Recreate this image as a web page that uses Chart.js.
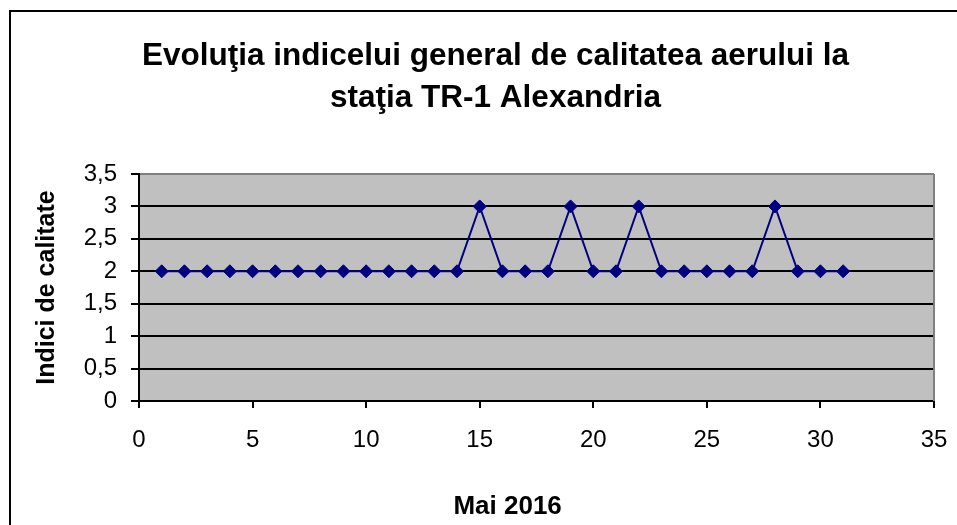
<!DOCTYPE html>
<html lang="ro">
<head>
<meta charset="utf-8">
<title>Evoluţia indicelui general de calitatea aerului</title>
<script src="https://cdn.jsdelivr.net/npm/chart.js@4/dist/chart.umd.min.js"></script>
<style>
    html, body { margin: 0; padding: 0; background: #fff; }
    #grafic { display: block; }
</style>
</head>
<body>
<canvas id="grafic" width="957" height="525"></canvas>
<script>
// Date: ziua din luna mai 2016 si indicele general de calitate
const zile = [1, 2, 3, 4, 5, 6, 7, 8, 9, 10, 11, 12, 13, 14, 15, 16,
    17, 18, 19, 20, 21, 22, 23, 24, 25, 26, 27, 28, 29, 30, 31];
const valori = [2, 2, 2, 2, 2, 2, 2, 2, 2, 2, 2, 2, 2, 2, 3, 2,
    2, 2, 3, 2, 2, 3, 2, 2, 2, 2, 2, 3, 2, 2, 2];
const titlu = ['Evoluţia indicelui general de calitatea aerului la', 'staţia TR-1 Alexandria'];
const titluX = 'Mai 2016';
const titluY = 'Indici de calitate';

const FONT = '"Liberation Sans", Arial, sans-serif';

// Fundal gri, chenar exterior si marginea zonei de desen
const fundal = {
    id: 'fundal',
    beforeDraw(chart) {
        const { ctx, chartArea: a } = chart;
        ctx.save();
        ctx.fillStyle = '#fff';
        ctx.fillRect(0, 0, chart.width, chart.height);
        ctx.fillStyle = '#c0c0c0';
        ctx.fillRect(a.left, a.top, a.right - a.left, a.bottom - a.top);
        // chenarul graficului (iese din imagine la dreapta si jos)
        ctx.strokeStyle = '#000';
        ctx.lineWidth = 2;
        ctx.beginPath();
        ctx.moveTo(10, chart.height + 10);
        ctx.lineTo(10, 11);
        ctx.lineTo(chart.width + 10, 11);
        ctx.stroke();
        ctx.restore();
    },
    beforeDatasetsDraw(chart) {
        const { ctx, chartArea: a } = chart;
        ctx.save();
        ctx.strokeStyle = '#808080';
        ctx.lineWidth = 2;
        ctx.beginPath();
        ctx.moveTo(a.right, a.top);
        ctx.lineTo(a.right, a.bottom);
        ctx.stroke();
        ctx.restore();
    }
};

const ctx = document.getElementById('grafic').getContext('2d');
const chart = new Chart(ctx, {
    type: 'scatter',
    data: {
        datasets: [{
            label: 'Indice general',
            data: zile.map((z, i) => ({ x: z, y: valori[i] })),
            showLine: true,
            borderColor: '#000080',
            backgroundColor: '#000080',
            borderWidth: 2,
            pointStyle: 'rectRot',
            pointRadius: 6.5,
            pointBorderWidth: 1,
            pointBorderColor: '#000080',
            pointBackgroundColor: '#000080'
        }]
    },
    options: {
        responsive: false,
        animation: false,
        // stanga 57 ca titlul sa fie centrat ca in original
        layout: { padding: { left: 57, right: 23, top: 0, bottom: 0 } },
        plugins: {
            legend: { display: false },
            tooltip: { enabled: false },
            title: {
                display: true,
                text: titlu,
                color: '#000',
                font: { family: FONT, size: 31.5, weight: 'bold', lineHeight: 42 / 31.5 },
                padding: { top: 35, bottom: 55 }
            }
        },
        scales: {
            x: {
                type: 'linear',
                min: 0,
                max: 35,
                afterFit(scale) {
                    scale.height = 124;
                    scale.paddingLeft = 0;
                    scale.paddingRight = 0;
                },
                ticks: {
                    stepSize: 5,
                    color: '#000',
                    padding: 18,
                    font: { family: FONT, size: 24 }
                },
                grid: {
                    drawOnChartArea: false,
                    drawTicks: true,
                    tickLength: 7,
                    color: '#000',
                    tickColor: '#000',
                    lineWidth: 2
                },
                border: { color: '#000', width: 2 },
                title: {
                    display: true,
                    // spatiile de la final muta titlul spre stanga, ca in original
                    text: titluX + '        ',
                    color: '#000',
                    font: { family: FONT, size: 26, weight: 'bold', lineHeight: 1.2 },
                    padding: { top: 0, bottom: 3 }
                }
            },
            y: {
                min: 0,
                max: 3.5,
                afterFit(scale) { scale.width = 82; },
                ticks: {
                    stepSize: 0.5,
                    color: '#000',
                    padding: 14,
                    font: { family: FONT, size: 24 },
                    callback: v => String(v).replace('.', ',')
                },
                grid: {
                    color: c => (c.tick && c.tick.value === 3.5 ? '#808080' : '#000'),
                    tickColor: '#000',
                    tickLength: 8,
                    lineWidth: 2
                },
                border: { color: '#000', width: 2 },
                title: {
                    display: true,
                    text: titluY,
                    color: '#000',
                    font: { family: FONT, size: 25, weight: 'bold', lineHeight: 1.2 },
                    padding: { top: -25, bottom: 0 }
                }
            }
        }
    },
    plugins: [fundal]
});
</script>
</body>
</html>
